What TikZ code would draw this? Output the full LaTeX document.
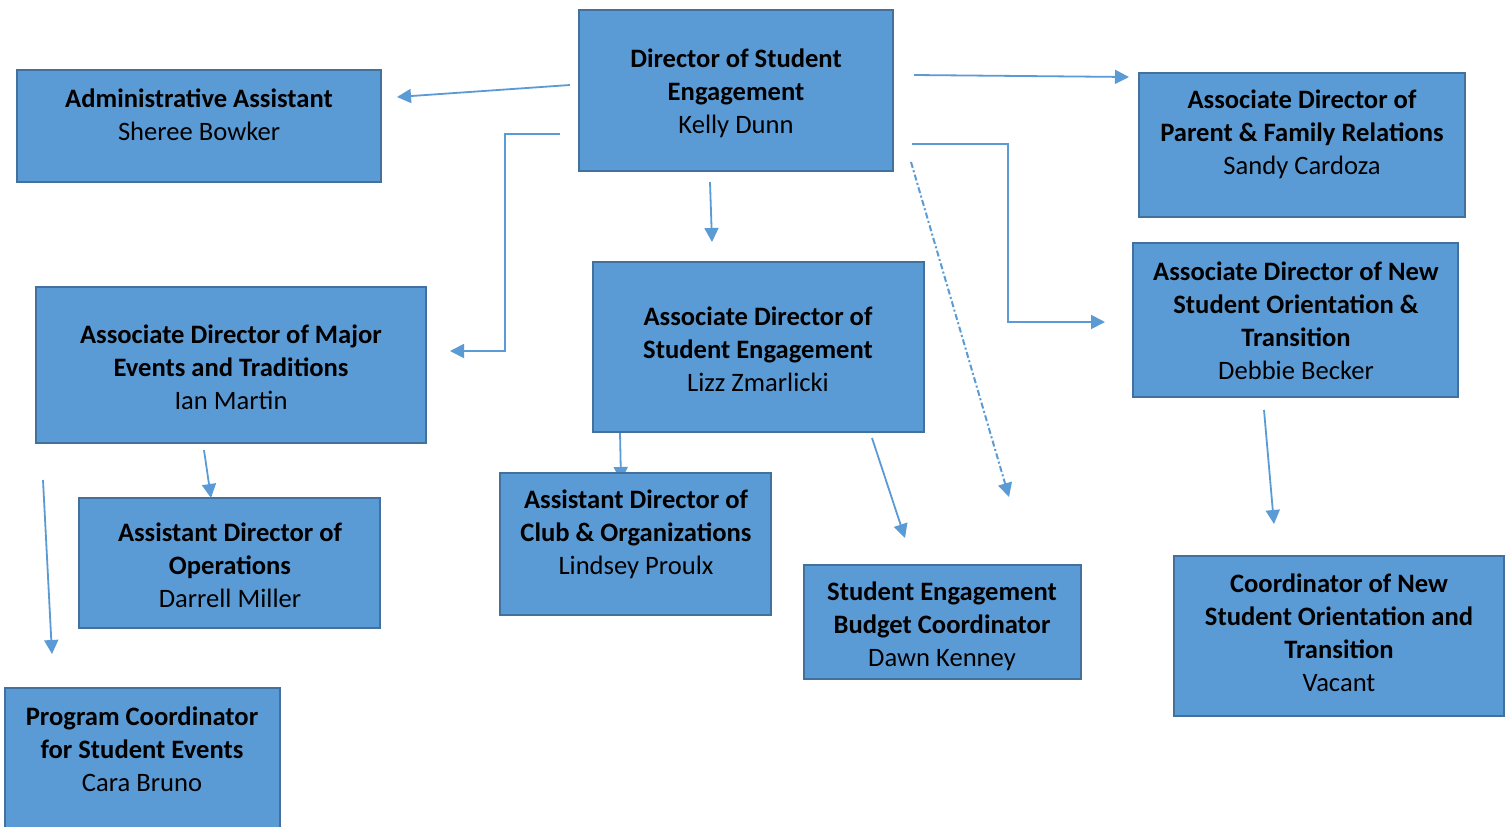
\documentclass[tikz,border=0pt]{standalone}
\usepackage{fontspec}
\setmainfont{Carlito}
\usetikzlibrary{arrows.meta,fit}
\definecolor{boxfill}{HTML}{5B9BD5}
\definecolor{boxline}{HTML}{41719C}
\definecolor{conncol}{HTML}{5B9BD5}
\tikzset{
  box/.style={draw=boxline, fill=boxfill, line width=1.4pt, inner sep=0pt, rectangle},
  txt/.style={align=center, inner sep=0pt, font=\fontsize{13.3}{16.5}\selectfont, text=black},
  conn/.style={draw=conncol, line width=0.9pt, -{Triangle[length=7pt,width=7pt]}},
  dashdot/.style={line width=1pt, dash pattern=on 3pt off 1.3pt on 1pt off 1.3pt}
}
\begin{document}
\begin{tikzpicture}[x=0.5pt,y=-0.5pt]
\clip (0,0) rectangle (1510,826);
\fill[white] (0,0) rectangle (1510,826);

% connector drawn under the boxes
\coordinate (c7a) at (620,432);  \coordinate (c7b) at (621,481);
\draw[conn] (c7a) -- (c7b);

% boxes
\node[box, fit={(17,70) (381,182)}] (admin) {};
\node[box, fit={(579,10) (893,171)}] (dir) {};
\node[box, fit={(1139,73) (1465,217)}] (parent) {};
\node[box, fit={(36,287) (426,443)}] (major) {};
\node[box, fit={(593,262) (924,432)}] (assoc) {};
\node[box, fit={(1133,243) (1458,397)}] (orient) {};
\node[box, fit={(79,498) (380,628)}] (ops) {};
\node[box, fit={(500,473) (771,615)}] (club) {};
\node[box, fit={(804,565) (1081,679)}] (budget) {};
\node[box, fit={(1174,556) (1504,716)}] (coord) {};
\node[box, fit={(5,688) (280,850)}] (prog) {};

% texts
\node[txt] (adminT) at (199,114.5) {\textbf{Administrative Assistant}\\Sheree Bowker};
\node[txt] (dirT) at (736,93) {\textbf{Director of Student}\\\textbf{Engagement}\\Kelly Dunn};
\node[txt] (parentT) at (1302,134.5) {\textbf{Associate Director of}\\\textbf{Parent \& Family Relations}\\Sandy Cardoza};
\node[txt] (majorT) at (231,367) {\textbf{Associate Director of Major}\\\textbf{Events and Traditions}\\Ian Martin};
\node[txt] (assocT) at (758,349) {\textbf{Associate Director of}\\\textbf{Student Engagement}\\Lizz Zmarlicki};
\node[txt] (orientT) at (1296,320.5) {\textbf{Associate Director of New}\\\textbf{Student Orientation \&}\\\textbf{Transition}\\Debbie Becker};
\node[txt] (opsT) at (230,565) {\textbf{Assistant Director of}\\\textbf{Operations}\\Darrell Miller};
\node[txt] (clubT) at (636,534.5) {\textbf{Assistant Director of}\\\textbf{Club \& Organizations}\\Lindsey Proulx};
\node[txt] (budgetT) at (942,626) {\textbf{Student Engagement}\\\textbf{Budget Coordinator}\\Dawn Kenney};
\node[txt] (coordT) at (1339,632.5) {\textbf{Coordinator of New}\\\textbf{Student Orientation and}\\\textbf{Transition}\\Vacant};
\node[txt] (progT) at (142,749) {\textbf{Program Coordinator}\\\textbf{for Student Events}\\Cara Bruno};

% connector end points
\coordinate (c1a) at (570,85);   \coordinate (c1b) at (397,97);
\coordinate (c2a) at (914,75);   \coordinate (c2b) at (1129,77);
\coordinate (c3a) at (560,134);  \coordinate (c3b) at (450,351);
\coordinate (c4a) at (710,182);  \coordinate (c4b) at (712,242);
\coordinate (c5a) at (912,144);  \coordinate (c5b) at (1105,322);
\coordinate (c6a) at (911,162);  \coordinate (c6b) at (1009,497);
\coordinate (c8a) at (872,438);  \coordinate (c8b) at (905,538);
\coordinate (c9a) at (204,450);  \coordinate (c9b) at (211,498);
\coordinate (c10a) at (43,480);  \coordinate (c10b) at (52,654);
\coordinate (c11a) at (1264,410); \coordinate (c11b) at (1274,524);

% connectors
\draw[conn] (c1a) -- (c1b);
\draw[conn] (c2a) -- (c2b);
\draw[conn] (c3a) -- (505,134) -- (505,351) -- (c3b);
\draw[conn] (c4a) -- (c4b);
\draw[conn] (c5a) -- (1008,144) -- (1008,322) -- (c5b);
\draw[conn, dashdot] (c6a) -- (c6b);
\draw[conn] (c8a) -- (c8b);
\draw[conn] (c9a) -- (c9b);
\draw[conn] (c10a) -- (c10b);
\draw[conn] (c11a) -- (c11b);
\end{tikzpicture}
\end{document}
